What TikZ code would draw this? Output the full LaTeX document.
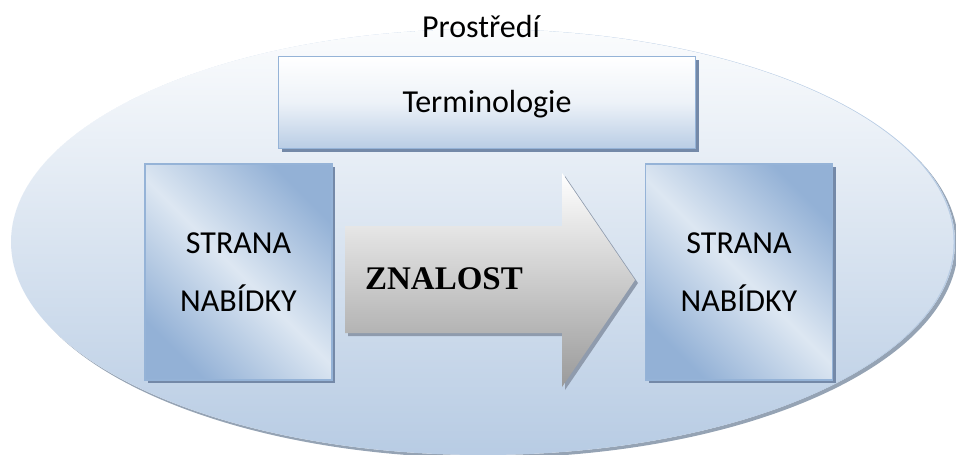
\documentclass[tikz,border=0pt]{standalone}
\usepackage{fontspec}
\setmainfont{Carlito}
\newfontfamily\titleserif{Liberation Serif}
\usetikzlibrary{shapes.geometric,shadows,fadings}

\definecolor{envbot}{HTML}{B8CCE4}
\definecolor{envshadow}{HTML}{95A3B4}
\definecolor{boxedge}{HTML}{95B3D7}
\definecolor{boxdark}{HTML}{93B1D6}
\definecolor{boxlight}{HTML}{DDE7F2}
\definecolor{boxshadow}{HTML}{7489A8}
\definecolor{termbot}{HTML}{B9CDE5}
\definecolor{termmid}{HTML}{EDF2F8}
\definecolor{arrowbot}{HTML}{9A9A9A}
\definecolor{arrowshadow}{HTML}{8F9BAD}

% white veil over the environment: nearly opaque at the top, clear at the bottom
\tikzfading[name=envfade, top color=transparent!5, middle color=transparent!42,
  bottom color=transparent!100]

\begin{document}
\begin{tikzpicture}[x=1pt,y=-1pt,
  solidshadow/.style={general shadow={fill=#1, shadow xshift=3pt, shadow yshift=-3pt}},
  label text/.style={font=\fontsize{32pt}{58pt}\selectfont},
  sidebox/.style={rectangle, draw=boxedge, line width=1.5pt,
    minimum width=187pt, minimum height=216pt, inner sep=0pt,
    top color=boxdark, bottom color=boxdark, middle color=boxlight,
    shading angle=-45, solidshadow=boxshadow, align=center, label text},
  termbox/.style={rectangle, draw=boxedge, line width=1.5pt,
    minimum width=417pt, minimum height=92pt, inner sep=0pt,
    text height=22pt, text depth=2pt,
    top color=white, bottom color=termbot, middle color=termmid,
    solidshadow=boxshadow, label text},
  envshape/.style={ellipse, draw=none, inner sep=0pt,
    minimum width=944pt, minimum height=426pt, fill=envbot,
    postaction={fill=white, path fading=envfade}},
  flowarrow/.style={top color=white, bottom color=arrowbot, solidshadow=arrowshadow}
]
\useasboundingbox (0,0) rectangle (956,455);

% surrounding environment: shadow kept outside the ellipse, then the ellipse
\coordinate (envc) at (483,242);
\begin{scope}[even odd rule]
  \clip (-10,-10) rectangle (970,470)
    (envc) ellipse [x radius=472pt, y radius=213pt];
  \fill[envshadow] ([shift={(3,3)}]envc) ellipse [x radius=472pt, y radius=213pt];
\end{scope}
\node (env) [envshape] at (envc) {};
\node (envtitle) [label text, anchor=base] at (481,37) {Prostředí};

% terminology box
\node (term) [termbox] at (487,102.5) {Terminologie};

% supply sides
\node (left) [sidebox] at (238.5,272) {STRANA\\NABÍDKY};
\node (right) [sidebox] at (739,272) {STRANA\\NABÍDKY};

% knowledge flow arrow
\coordinate (tail top) at (345,226);
\coordinate (neck top) at (562,226);
\coordinate (barb top) at (562,173);
\coordinate (tip) at (635,280);
\coordinate (barb bottom) at (562,387);
\coordinate (neck bottom) at (562,333);
\coordinate (tail bottom) at (345,333);
\path[flowarrow] (tail top) -- (neck top) -- (barb top) -- (tip)
  -- (barb bottom) -- (neck bottom) -- (tail bottom) -- cycle;
\node (knowledge) [anchor=base, font=\titleserif\bfseries\fontsize{33pt}{40pt}\selectfont]
  at (444,289) {ZNALOST};
\end{tikzpicture}
\end{document}
